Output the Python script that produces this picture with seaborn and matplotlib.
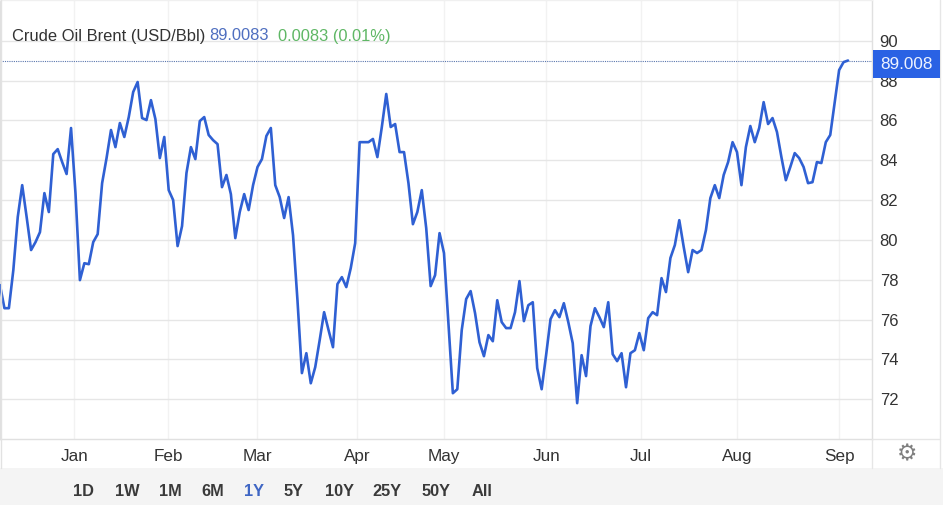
import matplotlib
matplotlib.use("Agg")
import matplotlib.pyplot as plt
from matplotlib.patches import Rectangle
from matplotlib.lines import Line2D
import pandas as pd
import seaborn as sns

prices = [
    77.73, 76.57, 76.57, 78.48, 81.15, 82.75, 81.15, 79.49, 79.89, 80.39, 82.35, 81.40,
    84.31, 84.56, 83.91, 83.31, 85.62, 82.35, 77.98, 78.83, 78.78, 79.89, 80.29, 82.85,
    84.11, 85.52, 84.66, 85.87, 85.17, 86.17, 87.43, 87.93, 86.12, 86.02, 87.02, 86.07,
    84.11, 85.17, 82.50, 82.00, 79.69, 80.69, 83.36, 84.66, 84.06, 85.97, 86.17, 85.27,
    85.01, 84.81, 82.65, 83.26, 82.30, 80.09, 81.40, 82.30, 81.50, 82.75, 83.66, 84.06,
    85.22, 85.62, 82.75, 82.15, 81.10, 82.15, 80.24, 76.97, 73.31, 74.31, 72.80, 73.61,
    74.96, 76.37, 75.47, 74.61, 77.78, 78.13, 77.63, 78.58, 79.84, 84.91, 84.91, 84.91,
    85.07, 84.16, 85.67, 87.33, 85.67, 85.82, 84.41, 84.41, 82.85, 80.79, 81.40, 82.50,
    80.59, 77.68, 78.23, 80.34, 79.34, 75.82, 72.30, 72.50, 75.47, 77.03, 77.43, 76.32,
    74.86, 74.16, 75.22, 74.91, 76.97, 75.87, 75.57, 75.57, 76.37, 77.93, 75.92, 76.72,
    76.87, 73.56, 72.50, 74.21, 76.02, 76.47, 76.12, 76.82, 75.87, 74.81, 71.80, 74.21,
    73.16, 75.67, 76.57, 76.12, 75.62, 76.87, 74.26, 73.91, 74.31, 72.60, 74.31, 74.46,
    75.32, 74.46, 76.07, 76.37, 76.22, 78.08, 77.38, 79.09, 79.74, 80.99, 79.64, 78.38,
    79.49, 79.34, 79.49, 80.49, 82.10, 82.75, 82.10, 83.26, 83.91, 84.91, 84.41, 82.75,
    84.66, 85.72, 84.91, 85.62, 86.92, 85.82, 86.12, 85.42, 84.16, 83.00, 83.66, 84.36,
    84.11, 83.66, 82.85, 82.90, 83.91, 83.86, 84.91, 85.27, 86.92, 88.53, 88.93, 89.01,
]
month_labels = ["Jan", "Feb", "Mar", "Apr", "May", "Jun", "Jul", "Aug", "Sep"]
month_positions = [16.7, 37.9, 57.9, 80.4, 100.0, 123.0, 144.4, 166.0, 189.0]
y_ticks = [72, 74, 76, 78, 80, 82, 84, 86, 88, 90]
last_value = 89.0083
ranges = ["1D", "1W", "1M", "6M", "1Y", "5Y", "10Y", "25Y", "50Y", "All"]
range_centres = [84, 127, 170, 213, 254, 294, 339, 387, 436, 482]

W, H = 943, 505
sns.set_theme(style="white")
plt.rcParams["font.family"] = ["Liberation Sans", "DejaVu Sans"]
BLUE = "#2f60d3"
fig = plt.figure(figsize=(W / 100, H / 100), dpi=100)
ax = fig.add_axes([0, (H - 439) / H, 872 / W, 439 / H])

df = pd.DataFrame({"i": range(len(prices)), "price": prices})
sns.lineplot(data=df, x="i", y="price", ax=ax, color=BLUE, linewidth=1.9, zorder=3)

step = 848 / (len(prices) - 1)
ax.set_xlim(0, 872 / step)
ax.set_ylim(70, 92.05)
ax.set_xlabel("")
ax.set_ylabel("")
ax.set_xticks(month_positions, month_labels)
ax.set_yticks(y_ticks)
ax.yaxis.tick_right()
ax.tick_params(axis="x", length=0, pad=7, labelsize=12.3, labelcolor="#333333")
ax.tick_params(axis="y", length=0, pad=5.5, labelsize=12, labelcolor="#333333")
ax.grid(axis="y", color="#e6e6e6", linewidth=1)
ax.grid(axis="x", color="#f2f2f2", linewidth=1)
ax.set_axisbelow(True)
for s in ax.spines.values():
    s.set_color("#e0e0e0")
    s.set_linewidth(1)
ax.spines["top"].set_color("#f0f0f0")

ax.axhline(last_value, color="#5a76ad", linewidth=0.8, linestyle=(0, (1, 1)), zorder=2)


def px(x, y):
    return x / W, 1 - y / H


def ftext(x, y, s, **kw):
    fig.text(*px(x, y), s, **kw)


# header
ftext(12, 36, "Crude Oil Brent (USD/Bbl)", fontsize=11.9, color="#333333", va="center", ha="left")
ftext(209, 36, "89.0083", fontsize=11.9, color="#4f6fc0", va="center", ha="left")
ftext(278, 36, "0.0083 (0.01%)", fontsize=11.9, color="#5fb765", va="center", ha="left")

# price tag
fig.add_artist(Rectangle((873 / W, 1 - 78 / H), 67 / W, 28 / H, transform=fig.transFigure,
                         facecolor="#2a62e4", edgecolor="none", zorder=5))
ftext(906.5, 64.5, "89.008", fontsize=12.3, color="#eef3ff", va="center", ha="center", zorder=6)

# frame around the right-hand side
fig.add_artist(Line2D([940 / W, 940 / W], [1 - 468 / H, 1], transform=fig.transFigure,
                      color="#e6e6e6", linewidth=1))
fig.add_artist(Line2D([872 / W, 940 / W], [1 - 439 / H, 1 - 439 / H], transform=fig.transFigure,
                      color="#e6e6e6", linewidth=1))
fig.add_artist(Line2D([872 / W, 872 / W], [1 - 468 / H, 1 - 439 / H], transform=fig.transFigure,
                      color="#e6e6e6", linewidth=1))
fig.add_artist(Line2D([0.5 / W, 0.5 / W], [1 - 468 / H, 1], transform=fig.transFigure,
                      color="#e2e2e2", linewidth=1))

# gear
ftext(907, 453.5, "\u2699", fontsize=16.5, color="#808080", va="center", ha="center",
      family=["DejaVu Sans"])

# range selector
fig.add_artist(Rectangle((0, 0), 1, (H - 468) / H, transform=fig.transFigure,
                         facecolor="#f4f4f4", edgecolor="none", zorder=1))
for label, cx in zip(ranges, range_centres):
    ftext(cx, 491, label, fontsize=11.8, fontweight="bold", va="center", ha="center",
          color="#3f66c4" if label == "1Y" else "#3a3a3a", zorder=3)

fig.savefig("out.png", dpi=100)
